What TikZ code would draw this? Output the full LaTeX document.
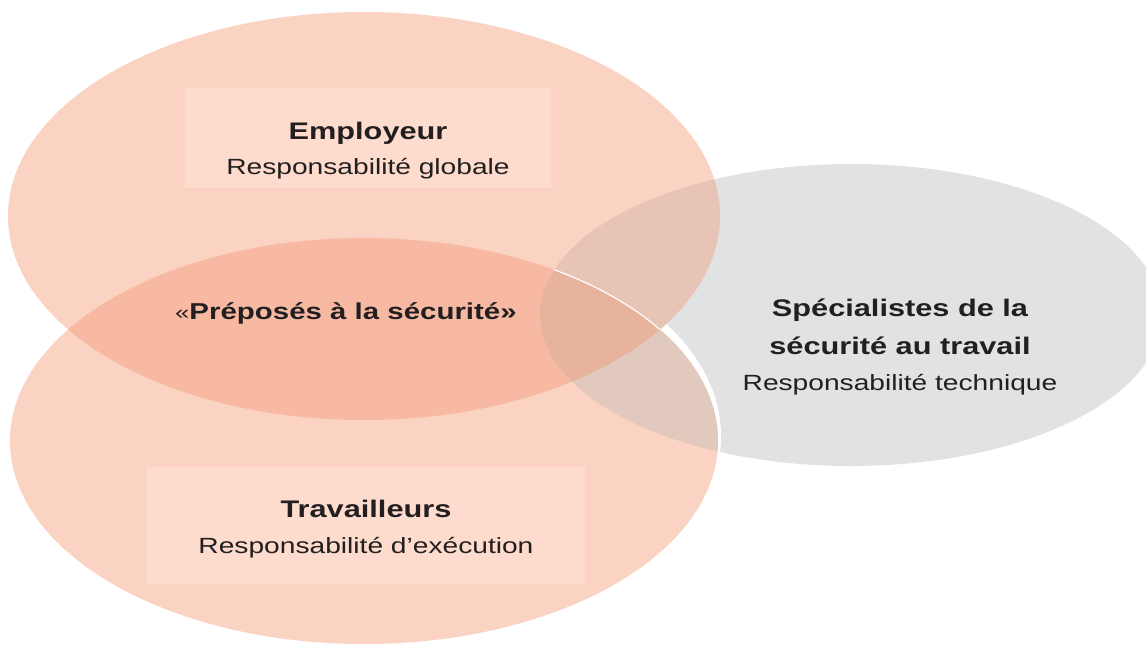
\documentclass[tikz,border=0pt]{standalone}
\usepackage{fontspec}
\setmainfont{Liberation Sans}[FakeStretch=1.28]
\definecolor{peach}{RGB}{251,211,195}
\definecolor{peachbox}{RGB}{253,220,205}
\definecolor{peachdark}{RGB}{248,185,163}
\definecolor{greyfill}{RGB}{225,226,228}
\definecolor{greytop}{RGB}{232,196,182}
\definecolor{greybot}{RGB}{226,201,189}
\definecolor{greyboth}{RGB}{231,179,157}
\definecolor{inktext}{RGB}{35,31,32}
\tikzset{
  employeur path/.style={insert path={(364,216) ellipse [x radius=356, y radius=204]}},
  travailleurs path/.style={insert path={(364,441) ellipse [x radius=354, y radius=203]}},
  specialistes path/.style={insert path={(851,315) ellipse [x radius=311, y radius=151]}},
  headtext/.style={font=\fontsize{12}{14}\selectfont\bfseries, text=inktext, inner sep=0pt, anchor=base},
  bodytext/.style={font=\fontsize{11}{13}\selectfont, text=inktext, inner sep=0pt, anchor=base},
  labelbox/.style={fill=peachbox, inner sep=0pt}
}
\begin{document}
\begin{tikzpicture}[x=0.5pt,y=-0.5pt]
\useasboundingbox (0,0) rectangle (1146,644);
\clip (0,0) rectangle (1146,644);
% grey ellipse with its white rim
\fill[greyfill, specialistes path];
\begin{scope}
\clip[specialistes path];
\fill[white] (366,436) ellipse [x radius=355, y radius=210];
\end{scope}
% the two peach ellipses
\fill[peach, employeur path];
\fill[peach, travailleurs path];
\begin{scope}
\clip[employeur path];
\fill[peachdark, travailleurs path];
\end{scope}
% overlaps with the grey ellipse
\begin{scope}
\clip[specialistes path];
\fill[greytop, employeur path];
\fill[greybot, travailleurs path];
\begin{scope}
\clip[employeur path];
\fill[greyboth, travailleurs path];
\draw[white, line width=0.6pt, travailleurs path];
\end{scope}
\end{scope}
% label boxes
\node[labelbox, minimum width=183pt, minimum height=50pt] (employeurbox) at (368,138) {};
\node[labelbox, minimum width=219pt, minimum height=58.5pt] (travailleursbox) at (366,525.5) {};
% texts
\node[headtext] (employeur) at (368,139.3) {Employeur};
\node[bodytext] (employeurresp) at (368,174) {Responsabilité globale};
\node[headtext, font=\fontsize{11.5}{14}\selectfont\bfseries] (preposes) at (346,319.3) {{\mdseries\fontsize{10}{12}\selectfont «}Préposés à la sécurité»};
\node[headtext] (travailleurs) at (366,517.7) {Travailleurs};
\node[bodytext] (travailleursresp) at (366,553.3) {Responsabilité d’exécution};
\node[headtext] (specialistes) at (900,316.7) {Spécialistes de la};
\node[headtext] (specialistes2) at (900,354.3) {sécurité au travail};
\node[bodytext] (specialistesresp) at (900,390) {Responsabilité technique};
\end{tikzpicture}
\end{document}
